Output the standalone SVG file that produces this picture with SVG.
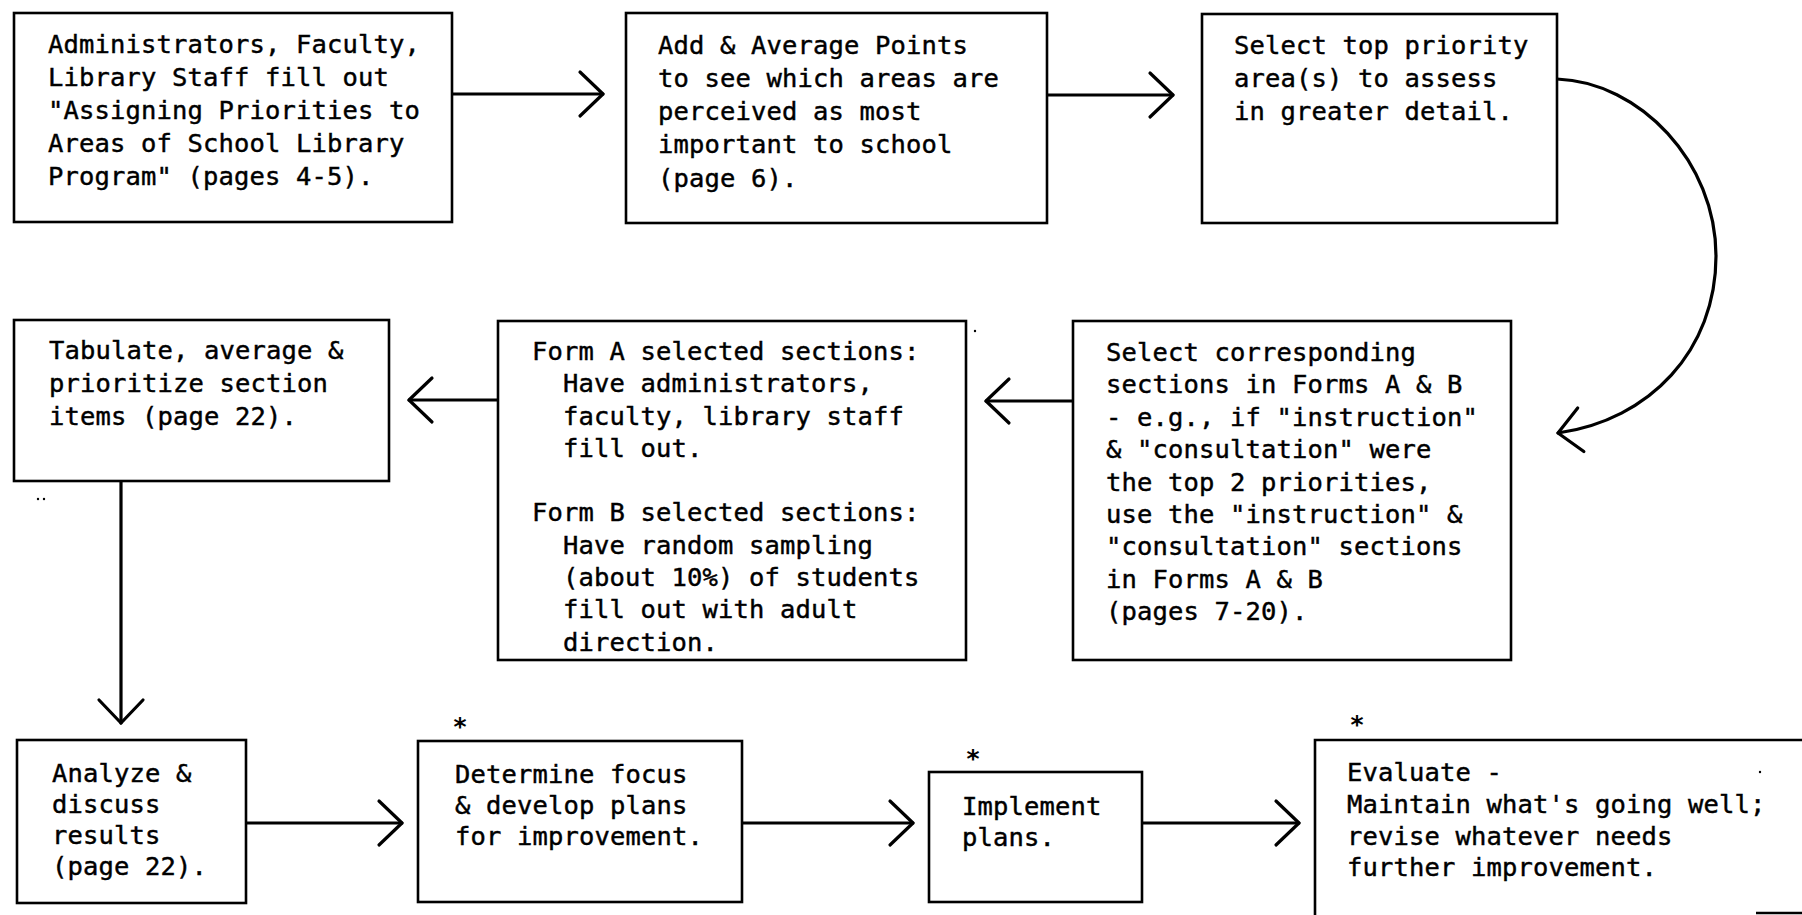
<svg xmlns="http://www.w3.org/2000/svg" width="1802" height="915" viewBox="0 0 1802 915">
  <style>
    .box { fill: #fff; stroke: #000; stroke-width: 2.6; }
    .edge { fill: none; stroke: #000; stroke-width: 3.2; stroke-linecap: round; }
    .t { font-family: "DejaVu Sans Mono", "Liberation Mono", monospace; font-size: 25.5px; letter-spacing: 0.15px; fill: #000; stroke: #000; stroke-width: 0.45px; }
    .star { font-family: "DejaVu Sans Mono", "Liberation Mono", monospace; font-size: 25px; font-weight: bold; fill: #000; text-anchor: middle; }
    .speck { fill: #000; }
  </style>
  <defs>
    <marker id="chev" markerUnits="userSpaceOnUse" viewBox="-30 -30 40 60" refX="0" refY="0" markerWidth="40" markerHeight="60" orient="auto" overflow="visible">
      <path d="M-23,-22 L0,0 L-23,22" fill="none" stroke="#000" stroke-width="3.2" stroke-linecap="round" stroke-linejoin="round"/>
    </marker>
  </defs>
  <rect width="1802" height="915" fill="#fff"/>

  <!-- flow connectors -->
  <g id="connectors">
    <path class="edge" d="M452,94 H603" marker-end="url(#chev)"/>
    <path class="edge" d="M1047,95 H1173" marker-end="url(#chev)"/>
    <path class="edge" d="M1557,79 C1640,82 1716,162 1716,256 C1716,350 1650,420 1558,433" marker-end="url(#chev)"/>
    <path class="edge" d="M1073,401 H986" marker-end="url(#chev)"/>
    <path class="edge" d="M498,400 H409" marker-end="url(#chev)"/>
    <path class="edge" d="M121,481 V723" marker-end="url(#chev)"/>
    <path class="edge" d="M246,823 H402" marker-end="url(#chev)"/>
    <path class="edge" d="M742,823 H913" marker-end="url(#chev)"/>
    <path class="edge" d="M1142,823 H1299" marker-end="url(#chev)"/>
  </g>

  <!-- row 1 -->
  <g id="assign-priorities">
    <rect class="box" x="14" y="13" width="438" height="209"/>
    <text class="t">
      <tspan x="48" y="53">Administrators, Faculty,</tspan>
      <tspan x="48" y="86">Library Staff fill out</tspan>
      <tspan x="48" y="119">"Assigning Priorities to</tspan>
      <tspan x="48" y="152">Areas of School Library</tspan>
      <tspan x="48" y="185">Program" (pages 4-5).</tspan>
    </text>
  </g>

  <g id="add-average">
    <rect class="box" x="626" y="13" width="421" height="210"/>
    <text class="t">
      <tspan x="658" y="54">Add &amp; Average Points</tspan>
      <tspan x="658" y="87">to see which areas are</tspan>
      <tspan x="658" y="120">perceived as most</tspan>
      <tspan x="658" y="153">important to school</tspan>
      <tspan x="658" y="187">(page 6).</tspan>
    </text>
  </g>

  <g id="select-top">
    <rect class="box" x="1202" y="14" width="355" height="209"/>
    <text class="t">
      <tspan x="1234" y="54">Select top priority</tspan>
      <tspan x="1234" y="87">area(s) to assess</tspan>
      <tspan x="1234" y="120">in greater detail.</tspan>
    </text>
  </g>

  <!-- row 2 -->
  <g id="tabulate">
    <rect class="box" x="14" y="320" width="375" height="161"/>
    <text class="t">
      <tspan x="49" y="359">Tabulate, average &amp;</tspan>
      <tspan x="49" y="392">prioritize section</tspan>
      <tspan x="49" y="425">items (page 22).</tspan>
    </text>
  </g>

  <g id="forms-fill-out">
    <rect class="box" x="498" y="321" width="468" height="339"/>
    <text class="t">
      <tspan x="532" y="360">Form A selected sections:</tspan>
      <tspan x="563" y="392">Have administrators,</tspan>
      <tspan x="563" y="425">faculty, library staff</tspan>
      <tspan x="563" y="457">fill out.</tspan>
      <tspan x="532" y="521">Form B selected sections:</tspan>
      <tspan x="563" y="554">Have random sampling</tspan>
      <tspan x="563" y="586">(about 10%) of students</tspan>
      <tspan x="563" y="618">fill out with adult</tspan>
      <tspan x="563" y="651">direction.</tspan>
    </text>
  </g>

  <g id="select-sections">
    <rect class="box" x="1073" y="321" width="438" height="339"/>
    <text class="t">
      <tspan x="1106" y="361">Select corresponding</tspan>
      <tspan x="1106" y="393">sections in Forms A &amp; B</tspan>
      <tspan x="1106" y="426">- e.g., if "instruction"</tspan>
      <tspan x="1106" y="458">&amp; "consultation" were</tspan>
      <tspan x="1106" y="491">the top 2 priorities,</tspan>
      <tspan x="1106" y="523">use the "instruction" &amp;</tspan>
      <tspan x="1106" y="555">"consultation" sections</tspan>
      <tspan x="1106" y="588">in Forms A &amp; B</tspan>
      <tspan x="1106" y="620">(pages 7-20).</tspan>
    </text>
  </g>

  <!-- row 3 -->
  <g id="analyze">
    <rect class="box" x="17" y="740" width="229" height="163"/>
    <text class="t">
      <tspan x="52" y="782">Analyze &amp;</tspan>
      <tspan x="52" y="813">discuss</tspan>
      <tspan x="52" y="844">results</tspan>
      <tspan x="52" y="875">(page 22).</tspan>
    </text>
  </g>

  <g id="determine-focus">
    <rect class="box" x="418" y="741" width="324" height="161"/>
    <text class="star" x="460" y="735">*</text>
    <text class="t">
      <tspan x="455" y="783">Determine focus</tspan>
      <tspan x="455" y="814">&amp; develop plans</tspan>
      <tspan x="455" y="845">for improvement.</tspan>
    </text>
  </g>

  <g id="implement">
    <rect class="box" x="929" y="772" width="213" height="130"/>
    <text class="star" x="973" y="767">*</text>
    <text class="t">
      <tspan x="962" y="815">Implement</tspan>
      <tspan x="962" y="846">plans.</tspan>
    </text>
  </g>

  <g id="evaluate">
    <path class="box" d="M1315,915 V740 H1802" fill="none"/>
    <path class="box" d="M1756,913 H1802" fill="none"/>
    <text class="star" x="1357" y="733">*</text>
    <text class="t">
      <tspan x="1347" y="781">Evaluate -</tspan>
      <tspan x="1347" y="813">Maintain what's going well;</tspan>
      <tspan x="1347" y="845">revise whatever needs</tspan>
      <tspan x="1347" y="876">further improvement.</tspan>
    </text>
  </g>

  <!-- stray print marks -->
  <g id="specks">
    <circle class="speck" cx="38" cy="499" r="1.2"/>
    <circle class="speck" cx="44" cy="499" r="1.2"/>
    <circle class="speck" cx="975" cy="331" r="1.2"/>
    <circle class="speck" cx="1760" cy="772" r="1.2"/>
  </g>
</svg>
